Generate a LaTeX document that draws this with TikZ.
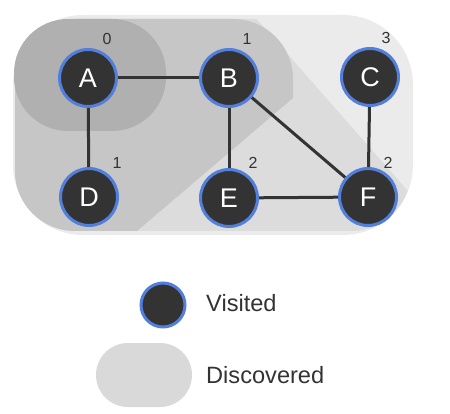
\documentclass[tikz,border=0pt]{standalone}
\usepackage{fontspec}
\setmainfont{Liberation Sans}
\newlength{\du}
\setlength{\du}{1pt}
\definecolor{outergray}{HTML}{EBEBEB}
\definecolor{levelzero}{HTML}{B0B0B0}
\definecolor{levelone}{HTML}{C6C6C6}
\definecolor{leveltwo}{HTML}{DCDCDC}
\definecolor{discgray}{HTML}{D9D9D9}
\definecolor{nodefill}{HTML}{333333}
\definecolor{nodeblue}{HTML}{527FDB}
\definecolor{textgray}{HTML}{333333}
\tikzset{
  visited/.style={circle, fill=nodefill, draw=nodeblue, line width=3\du, minimum size=57\du, inner sep=0pt, text=white, font=\fontsize{27}{27}\selectfont},
  level/.style={text=textgray, font=\fontsize{16}{16}\selectfont, inner sep=0pt},
  edge/.style={draw=nodefill, line width=3\du},
  legendtext/.style={anchor=west, text=textgray, font=\fontsize{23.6}{24}\selectfont, inner sep=0pt}
}
\begin{document}
\begin{tikzpicture}
\pgftransformxscale{1.000000}
\pgftransformyscale{-1.000000}
\useasboundingbox (0\du,0\du) rectangle (450\du,414\du);
% discovered regions
\fill[outergray, rounded corners=70\du] (13\du,15\du) rectangle (413\du,235\du);
\begin{scope}
\clip (0\du,0\du)--(240\du,0\du)--(480\du,273\du)--(0\du,273\du)--cycle;
\fill[leveltwo, rounded corners=60\du] (15\du,19\du) rectangle (411\du,231\du);
\end{scope}
\begin{scope}
\clip (0\du,0\du)--(293\du,0\du)--(293\du,98\du)--(137\du,231\du)--(0\du,231\du)--cycle;
\fill[levelone, rounded corners=60\du] (15\du,19\du) rectangle (293\du,231\du);
\end{scope}
\fill[levelzero, rounded corners=54\du] (14\du,19\du) rectangle (166\du,131\du);
% vertices
\node[visited] (A) at (88\du,78\du){A};
\node[visited] (B) at (229\du,78\du){B};
\node[visited] (C) at (370\du,77\du){C};
\node[visited] (D) at (89\du,197\du){D};
\node[visited] (E) at (229\du,198\du){E};
\node[visited] (F) at (368\du,197\du){F};
% edges
\draw[edge] (A)--(B);
\draw[edge] (A)--(D);
\draw[edge] (B)--(E);
\draw[edge] (B)--(F);
\draw[edge] (E)--(F);
\draw[edge] (C)--(F);
% levels
\node[level] (lA) at (107\du,39\du){0};
\node[level] (lB) at (247\du,39\du){1};
\node[level] (lC) at (386\du,38\du){3};
\node[level] (lD) at (117\du,163\du){1};
\node[level] (lE) at (253\du,163\du){2};
\node[level] (lF) at (388\du,163\du){2};
% legend
\node[visited, minimum size=44\du] (vis) at (163\du,305\du){};
\node[legendtext] (vistext) at (206\du,303\du){Visited};
\node[fill=discgray, rounded corners=32\du, minimum width=96\du, minimum height=64\du, inner sep=0pt] (disc) at (144\du,375\du){};
\node[legendtext] (disctext) at (206\du,375\du){Discovered};
\end{tikzpicture}
\end{document}
